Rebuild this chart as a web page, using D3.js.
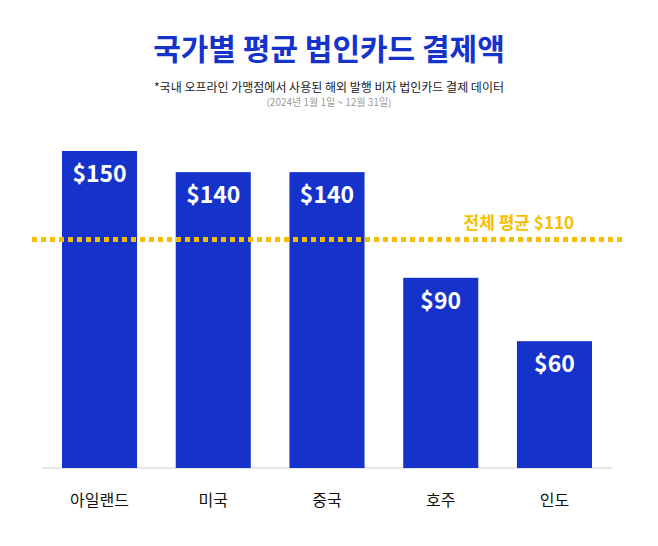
<!DOCTYPE html>
<html><head><meta charset="utf-8">
<script src="https://cdn.jsdelivr.net/npm/d3@7"></script>
<style>body{margin:0;background:#fff}svg{display:block}</style>
</head><body><svg id="c" width="658" height="546"></svg>
<script>
const categories = ["아일랜드","미국","중국","호주","인도"];
const values = [150,140,140,90,60];
const valueLabels = ["$150","$140","$140","$90","$60"];
const average = 110;
const averageLabel = "전체 평균 $110";

const svg = d3.select("#c");
const font = "'Noto Sans CJK KR','Noto Sans',sans-serif";
const blue = "#1533CB", gold = "#F7BE00";

svg.append("text").attr("x",329).attr("y",60).attr("text-anchor","middle")
  .attr("font-family",font).attr("font-weight",700).attr("font-size",30).attr("fill",blue)
  .text("국가별 평균 법인카드 결제액");
svg.append("text").attr("x",329).attr("y",92).attr("text-anchor","middle")
  .attr("font-family",font).attr("font-size",12).attr("fill","#222")
  .text("*국내 오프라인 가맹점에서 사용된 해외 발행 비자 법인카드 결제 데이터");
svg.append("text").attr("x",329).attr("y",106).attr("text-anchor","middle")
  .attr("font-family",font).attr("font-size",10).attr("fill","#999")
  .text("(2024년 1월 1일 ~ 12월 31일)");

const x = d3.scaleBand().domain(categories).range([62,592]).paddingInner(0.34).paddingOuter(0);
const y = d3.scaleLinear().domain([0,150]).range([468,151]);

svg.append("line").attr("x1",42).attr("x2",612).attr("y1",468).attr("y2",468)
  .attr("stroke","#ccc").attr("stroke-width",1);

svg.selectAll("rect.b").data(values).join("rect").attr("class","b")
  .attr("x",(d,i)=>x(categories[i])).attr("width",x.bandwidth())
  .attr("y",d=>y(d)).attr("height",d=>y(0)-y(d)).attr("fill",blue);

svg.selectAll("text.v").data(values).join("text").attr("class","v")
  .attr("x",(d,i)=>x(categories[i])+x.bandwidth()/2).attr("y",d=>y(d)+31)
  .attr("text-anchor","middle").attr("font-family",font).attr("font-weight",700)
  .attr("font-size",23).attr("fill","#fff").text((d,i)=>valueLabels[i]);

svg.selectAll("text.c").data(categories).join("text").attr("class","c")
  .attr("x",d=>x(d)+x.bandwidth()/2).attr("y",506).attr("text-anchor","middle")
  .attr("font-family",font).attr("font-size",16).attr("fill","#111").text(d=>d);

const ay = y(average)+4;
svg.append("line").attr("x1",32).attr("x2",622).attr("y1",ay).attr("y2",ay)
  .attr("stroke",gold).attr("stroke-width",5).attr("stroke-dasharray","5,4");
svg.append("text").attr("x",574).attr("y",ay-11).attr("text-anchor","end")
  .attr("font-family",font).attr("font-weight",700).attr("font-size",17).attr("fill",gold)
  .text(averageLabel);
</script></body></html>
